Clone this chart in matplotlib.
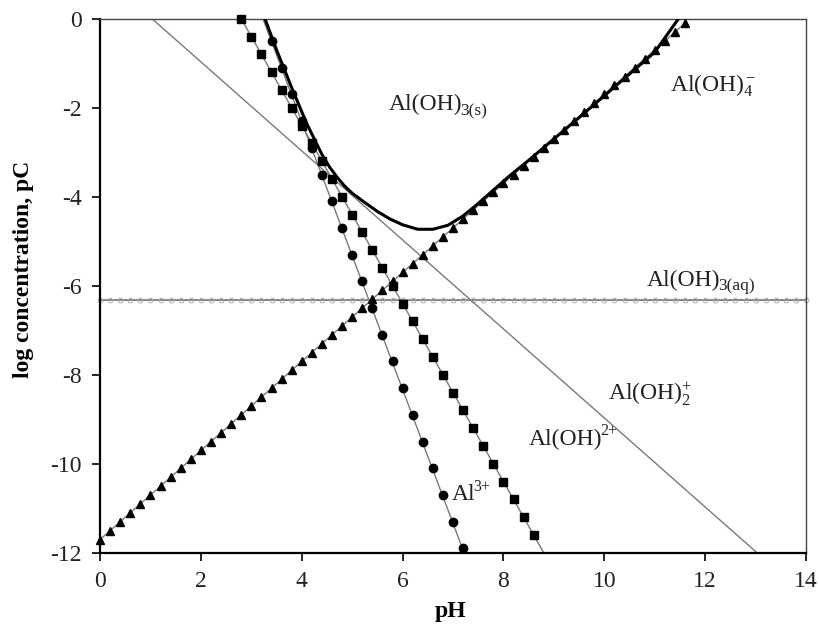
import matplotlib
matplotlib.use("Agg")
import matplotlib.pyplot as plt

# ---------------- data ----------------
# Al3+ (circles)
al3_pH = [3.4, 3.6, 3.8, 4.0, 4.2, 4.4, 4.6, 4.8, 5.0, 5.2,
          5.4, 5.6, 5.8, 6.0, 6.2, 6.4, 6.6, 6.8, 7.0, 7.2]
al3_log = [-0.5, -1.1, -1.7, -2.3, -2.9, -3.5, -4.1, -4.7, -5.3, -5.9,
           -6.5, -7.1, -7.7, -8.3, -8.9, -9.5, -10.1, -10.7, -11.3, -11.9]
al3_line_pH = [3.23, 7.22]
al3_line_log = [0.0, -12.0]

# Al(OH)2+ (squares)
aloh_pH = [2.8, 3.0, 3.2, 3.4, 3.6, 3.8, 4.0, 4.2, 4.4, 4.6,
           4.8, 5.0, 5.2, 5.4, 5.6, 5.8, 6.0, 6.2, 6.4, 6.6,
           6.8, 7.0, 7.2, 7.4, 7.6, 7.8, 8.0, 8.2, 8.4, 8.6]
aloh_log = [0.0, -0.4, -0.8, -1.2, -1.6, -2.0, -2.4, -2.8, -3.2, -3.6,
            -4.0, -4.4, -4.8, -5.2, -5.6, -6.0, -6.4, -6.8, -7.2, -7.6,
            -8.0, -8.4, -8.8, -9.2, -9.6, -10.0, -10.4, -10.8, -11.2, -11.6]
aloh_line_pH = [2.8, 8.8]
aloh_line_log = [0.0, -12.0]

# Al(OH)2+ (thin grey line)
aloh2_pH = [1.03, 13.03]
aloh2_log = [0.0, -12.0]

# Al(OH)3(aq) (horizontal, small open markers)
aq_pH = [0.0, 0.2, 0.4, 0.6, 0.8, 1.0, 1.2, 1.4, 1.6, 1.8,
         2.0, 2.2, 2.4, 2.6, 2.8, 3.0, 3.2, 3.4, 3.6, 3.8,
         4.0, 4.2, 4.4, 4.6, 4.8, 5.0, 5.2, 5.4, 5.6, 5.8,
         6.0, 6.2, 6.4, 6.6, 6.8, 7.0, 7.2, 7.4, 7.6, 7.8,
         8.0, 8.2, 8.4, 8.6, 8.8, 9.0, 9.2, 9.4, 9.6, 9.8,
         10.0, 10.2, 10.4, 10.6, 10.8, 11.0, 11.2, 11.4, 11.6, 11.8,
         12.0, 12.2, 12.4, 12.6, 12.8, 13.0, 13.2, 13.4, 13.6, 13.8, 14.0]
aq_level = -6.33

# Al(OH)4- (triangles)
aloh4_pH = [0.0, 0.2, 0.4, 0.6, 0.8, 1.0, 1.2, 1.4, 1.6, 1.8,
            2.0, 2.2, 2.4, 2.6, 2.8, 3.0, 3.2, 3.4, 3.6, 3.8,
            4.0, 4.2, 4.4, 4.6, 4.8, 5.0, 5.2, 5.4, 5.6, 5.8,
            6.0, 6.2, 6.4, 6.6, 6.8, 7.0, 7.2, 7.4, 7.6, 7.8,
            8.0, 8.2, 8.4, 8.6, 8.8, 9.0, 9.2, 9.4, 9.6, 9.8,
            10.0, 10.2, 10.4, 10.6, 10.8, 11.0, 11.2, 11.4, 11.6]
aloh4_log = [-11.7, -11.5, -11.3, -11.1, -10.9, -10.7, -10.5, -10.3, -10.1, -9.9,
             -9.7, -9.5, -9.3, -9.1, -8.9, -8.7, -8.5, -8.3, -8.1, -7.9,
             -7.7, -7.5, -7.3, -7.1, -6.9, -6.7, -6.5, -6.3, -6.1, -5.9,
             -5.7, -5.5, -5.3, -5.1, -4.9, -4.7, -4.5, -4.3, -4.1, -3.9,
             -3.7, -3.5, -3.3, -3.1, -2.9, -2.7, -2.5, -2.3, -2.1, -1.9,
             -1.7, -1.5, -1.3, -1.1, -0.9, -0.7, -0.5, -0.3, -0.1]

# total solubility (thick black curve)
tot_pH = [3.27, 3.5, 3.8, 4.1, 4.4, 4.55, 4.7, 4.85, 5.0, 5.25, 5.5, 5.75,
          6.0, 6.3, 6.6, 6.9, 7.2, 7.5, 7.8, 8.1, 8.5, 9.0, 9.5, 10.0,
          10.5, 11.0, 11.47]
tot_log = [0.0, -0.7, -1.55, -2.36, -3.05, -3.33, -3.56, -3.76, -3.92, -4.13,
           -4.33, -4.5, -4.63, -4.73, -4.73, -4.64, -4.43, -4.15, -3.85, -3.55,
           -3.18, -2.7, -2.22, -1.73, -1.24, -0.75, 0.0]

x_ticks = [0, 2, 4, 6, 8, 10, 12, 14]
y_ticks = [0, -2, -4, -6, -8, -10, -12]

# ---------------- style ----------------
plt.rcParams['font.family'] = ['Liberation Serif', 'DejaVu Serif']
plt.rcParams['axes.unicode_minus'] = False
plt.rcParams['mathtext.fontset'] = 'custom'
plt.rcParams['mathtext.rm'] = 'Liberation Serif'
plt.rcParams['mathtext.it'] = 'Liberation Serif:italic'
plt.rcParams['mathtext.bf'] = 'Liberation Serif:bold'

fig = plt.figure(figsize=(8.2, 6.24), dpi=100)
ax = fig.add_axes([0.122, 0.114, 0.861, 0.856])

grey = '#7a7a7a'

# Al(OH)3(aq)
ax.plot(aq_pH, [aq_level] * len(aq_pH), color=grey, lw=1.3, marker='o',
        ms=3.4, mfc='none', mec='#b0b0b0', mew=0.7, clip_on=False, zorder=2)

# Al(OH)2+ thin line
ax.plot(aloh2_pH, aloh2_log, color=grey, lw=1.0, zorder=2)

# Al3+
ax.plot(al3_line_pH, al3_line_log, color=grey, lw=1.0, zorder=2)
ax.plot(al3_pH, al3_log, ls='none', marker='o', ms=6, color='black',
        clip_on=False, zorder=4)

# Al(OH)2+
ax.plot(aloh_line_pH, aloh_line_log, color=grey, lw=1.0, zorder=2)
ax.plot(aloh_pH, aloh_log, ls='none', marker='s', ms=5.5, color='black',
        clip_on=False, zorder=4)

# Al(OH)4-
ax.plot(aloh4_pH, aloh4_log, color=grey, lw=1.0, marker='^', ms=5.5,
        mfc='black', mec='black', clip_on=False, zorder=4)

# total
ax.plot(tot_pH, tot_log, color='black', lw=2.2, zorder=5,
        solid_capstyle='butt')

ax.set_xlim(0, 14)
ax.set_ylim(-12, 0)
ax.set_xticks(x_ticks)
ax.set_yticks(y_ticks)
ax.tick_params(direction='out', length=6, width=1.2, labelsize=17, pad=7,
               labelcolor='#222222')
for s in ['left', 'bottom']:
    ax.spines[s].set_linewidth(1.6)
for s in ['top', 'right']:
    ax.spines[s].set_linewidth(1.0)
    ax.spines[s].set_color('#444444')

ax.set_xlabel('pH', fontsize=17, fontweight='bold')
ax.set_ylabel('log concentration, pC', fontsize=17, fontweight='bold')
ax.xaxis.set_label_coords(0.497, -0.09)
ax.yaxis.set_label_coords(-0.093, 0.53)

fs = 17
sfs = 12.5
tc = '#222222'


def chem(x, y, base, sub=None, sup=None):
    t = ax.text(x, y, base, fontsize=fs, va='center', color=tc)
    if sub:
        ax.annotate(sub, xy=(1.0, 0.2), xycoords=t, xytext=(-1.5, 0),
                    textcoords='offset points', fontsize=sfs,
                    va='center', ha='left', color=tc)
    if sup:
        ax.annotate(sup, xy=(1.0, 0.88), xycoords=t, xytext=(-1.5, 0),
                    textcoords='offset points', fontsize=sfs - 1,
                    va='center', ha='left', color=tc)


chem(5.72, -1.93, 'Al(OH)', sub='3(s)')
ax.text(11.3, -1.5, r'Al(OH)$_{4}^{\,\mathrm{-}}$', fontsize=fs,
        va='center', color=tc)
chem(10.85, -5.87, 'Al(OH)', sub='3(aq)')
ax.text(10.08, -8.45, r'Al(OH)$_{2}^{+}$', fontsize=fs, va='center', color=tc)
chem(8.5, -9.45, 'Al(OH)', sup='2+')
chem(6.98, -10.7, 'Al', sup='3+')

fig.savefig('out.png', dpi=100)
